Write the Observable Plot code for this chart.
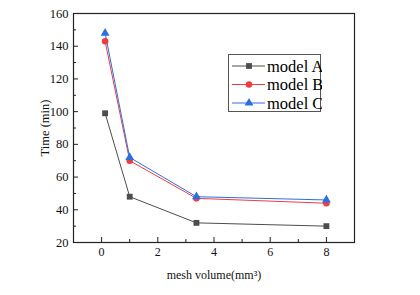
<!DOCTYPE html>
<html><head><meta charset="utf-8">
<script src="https://cdn.jsdelivr.net/npm/d3@7"></script>
<script src="https://cdn.jsdelivr.net/npm/@observablehq/plot@0.6"></script>
<style>
body{margin:0;background:#fff;}
#wrap{position:relative;width:420px;height:295px;font-family:"Liberation Serif",serif;}
#legend{position:absolute;left:228px;top:54px;width:93px;height:58px;border:1px solid #555;background:#fff;box-sizing:border-box;}
</style>
</head><body>
<div id="wrap"><div id="chart"></div><div id="legend"></div></div>
<script>
const meshVolume = [0.125, 1, 3.375, 8];
const modelA = [99, 48, 32, 30];
const modelB = [143, 70, 47, 44];
const modelC = [148, 72, 48, 46];
const seriesNames = ["model A", "model B", "model C"];
const seriesColors = ["#4d4d4d", "#f03c3c", "#2b6fe6"];
const seriesSymbols = ["square", "circle", "triangle"];
const xTicks = [0, 2, 4, 6, 8];
const xMinor = [-1, 1, 3, 5, 7, 9];
const yTicks = [20, 40, 60, 80, 100, 120, 140, 160];
const yMinor = [30, 50, 70, 90, 110, 130, 150];

const values = [modelA, modelB, modelC];
const rows = [];
values.forEach((vals, s) => vals.forEach((v, i) => rows.push({series: seriesNames[s], x: meshVolume[i], y: v})));

const W = 420, H = 295, mL = 73, mR = 66, mT = 13, mB = 53;
const fw = W - mL - mR, fh = H - mT - mB;

const chart = Plot.plot({
  width: W, height: H,
  marginLeft: mL, marginRight: mR, marginTop: mT, marginBottom: mB,
  style: {fontFamily: "Liberation Serif, serif", fontSize: "12px", color: "#111", background: "#fff"},
  x: {domain: [-1, 9]},
  y: {domain: [20, 160]},
  color: {domain: seriesNames, range: seriesColors},
  symbol: {domain: seriesNames, range: seriesSymbols},
  marks: [
    Plot.axisX({ticks: xTicks, tickSize: 0, tickPadding: 5, label: "mesh volume(mm³)", labelAnchor: "center", labelArrow: "none", labelOffset: 36, fontSize: 12}),
    Plot.axisY({ticks: yTicks, tickSize: 0, tickPadding: 5, label: "Time (min)", labelAnchor: "center", labelArrow: "none", labelOffset: 33, fontSize: 12.5}),
    Plot.tickX(xTicks, {x: d => d, insetTop: fh - 5, stroke: "#222"}),
    Plot.tickX(xMinor, {x: d => d, insetTop: fh - 3, stroke: "#222"}),
    Plot.tickY(yTicks, {y: d => d, insetRight: fw - 5, stroke: "#222"}),
    Plot.tickY(yMinor, {y: d => d, insetRight: fw - 3, stroke: "#222"}),
    Plot.line(rows, {x: "x", y: "y", z: "series", stroke: "series", strokeWidth: 1}),
    Plot.dot(rows, {x: "x", y: "y", fill: "series", symbol: "series", r: 3.3, stroke: "none"}),
    Plot.frame({stroke: "#222", strokeWidth: 1.2})
  ]
});
document.getElementById("chart").appendChild(chart);

// legend
const lg = d3.select("#legend").append("svg").attr("width", 93).attr("height", 58);
seriesNames.forEach((name, i) => {
  const cy = 11 + i * 18.5;
  const g = lg.append("g");
  g.append("line").attr("x1", 3).attr("x2", 36).attr("y1", cy).attr("y2", cy).attr("stroke", seriesColors[i]).attr("stroke-width", 1);
  g.append("path").attr("d", d3.symbol(seriesSymbols[i] === "square" ? d3.symbolSquare : seriesSymbols[i] === "circle" ? d3.symbolCircle : d3.symbolTriangle, 34)()).attr("transform", `translate(20,${cy})`).attr("fill", seriesColors[i]);
  g.append("text").attr("x", 38).attr("y", cy).attr("dy", "0.35em").attr("font-size", 16.5).attr("font-family", "Liberation Serif, serif").attr("fill", "#000").text(name);
});
</script>
</body></html>
